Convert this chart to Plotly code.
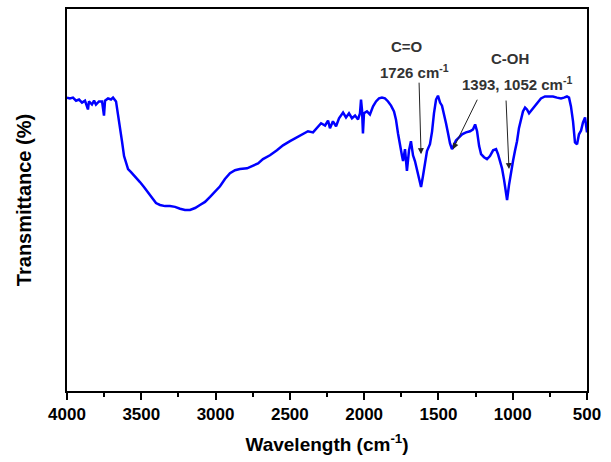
import plotly.graph_objects as go

# FTIR spectrum (wavenumber cm-1, transmittance arbitrary %)
wavenumber = [4000, 3980, 3960, 3939, 3919, 3899, 3879, 3859, 3852, 3832, 3818, 3805, 3785, 3764, 3751, 3744,
              3724, 3704, 3690, 3670, 3657, 3643, 3630, 3616, 3603, 3589, 3569, 3549, 3529, 3509, 3482, 3455,
              3428, 3401, 3374, 3340, 3307, 3273, 3239, 3206, 3172, 3138, 3105, 3071, 3037, 3004, 2970, 2937,
              2903, 2869, 2836, 2788, 2748, 2714, 2681, 2634, 2587, 2546, 2499, 2452, 2412, 2378, 2344, 2317,
              2290, 2263, 2243, 2230, 2210, 2189, 2169, 2142, 2122, 2102, 2082, 2061, 2041, 2028, 2021, 2014,
              2008, 2001, 1981, 1961, 1940, 1920, 1900, 1880, 1860, 1839, 1819, 1799, 1786, 1772, 1759, 1745,
              1738, 1725, 1712, 1698, 1685, 1671, 1658, 1644, 1631, 1617, 1604, 1590, 1577, 1557, 1543, 1530,
              1516, 1503, 1489, 1476, 1462, 1449, 1435, 1422, 1409, 1395, 1382, 1361, 1341, 1314, 1287, 1267,
              1253, 1240, 1226, 1213, 1193, 1173, 1153, 1132, 1112, 1099, 1085, 1072, 1058, 1045, 1038, 1025,
              1011, 998, 985, 971, 958, 944, 931, 917, 904, 890, 870, 850, 830, 810, 783, 756, 729, 702, 675,
              655, 635, 621, 608, 594, 581, 567, 554, 540, 527, 513, 507, 500]
transmittance = [76.8, 76.6, 76.8, 76.0, 76.3, 75.5, 76.0, 73.7, 75.8, 75.0, 76.0, 75.0, 75.8, 75.8, 72.1, 76.0,
                 76.6, 76.3, 76.8, 75.8, 72.4, 69.3, 65.4, 61.5, 59.6, 58.1, 57.3, 56.5, 55.5, 54.7, 53.4, 52.1,
                 50.5, 49.2, 48.7, 48.4, 48.4, 48.2, 47.7, 47.4, 47.4, 47.9, 48.7, 49.5, 50.8, 52.1, 53.6, 55.5,
                 57.0, 57.8, 58.1, 58.3, 58.9, 59.6, 60.7, 61.7, 63.0, 64.3, 65.4, 66.4, 67.4, 68.0, 67.7, 69.0,
                 70.1, 69.5, 70.8, 68.8, 70.6, 69.3, 71.4, 72.9, 71.6, 72.7, 71.4, 72.1, 71.1, 72.7, 76.3, 73.4,
                 67.4, 72.7, 73.2, 72.4, 74.5, 75.8, 76.6, 76.8, 76.6, 75.8, 74.7, 73.2, 71.1, 67.4, 64.1, 61.5,
                 60.2, 63.3, 57.6, 63.0, 65.4, 61.7, 60.2, 58.1, 55.5, 53.4, 56.3, 60.2, 62.8, 64.6, 67.9, 72.7,
                 76.3, 77.3, 75.5, 74.7, 72.7, 70.1, 67.4, 64.8, 63.3, 64.3, 65.6, 66.4, 67.2, 67.7, 68.0, 68.5,
                 69.8, 68.0, 64.1, 62.0, 61.2, 60.7, 61.5, 63.0, 63.3, 62.0, 59.9, 58.3, 55.2, 51.0, 50.0, 53.9,
                 57.6, 60.2, 62.8, 65.4, 68.8, 71.4, 73.2, 74.2, 73.7, 72.7, 73.7, 74.7, 75.8, 76.6, 77.1, 77.1,
                 77.1, 76.8, 76.6, 76.8, 77.1, 76.8, 74.5, 70.6, 65.1, 64.6, 67.2, 68.2, 70.3, 71.6, 69.8, 67.7]

x_ticks = [4000, 3500, 3000, 2500, 2000, 1500, 1000, 500]

# annotation anchors (head positions) and labels
peak_w = [1617, 1402, 1025]
peak_t = [62.0, 63.3, 58.1]
label_text = ["C=O", "1726 cm<sup>-1</sup>", "C-OH", "1393, 1052 cm<sup>-1</sup>"]
label_w = [1711, 1658, 1018, 971]
label_t = [90.1, 83.6, 87.0, 80.5]

fig = go.Figure()
fig.add_trace(go.Scatter(x=wavenumber, y=transmittance, mode="lines",
                         line=dict(color="#0000FF", width=2.5), showlegend=False))

arrow_offsets = [(-2, -73), (25, -51), (-3, -70)]
for w, t, (ax, ay) in zip(peak_w, peak_t, arrow_offsets):
    fig.add_annotation(x=w, y=t, xref="x", yref="y", ax=ax, ay=ay, text="",
                       showarrow=True, arrowhead=2, arrowsize=1.2, arrowwidth=1, arrowcolor="#222222")

for txt, w, t in zip(label_text, label_w, label_t):
    fig.add_annotation(x=w, y=t, xref="x", yref="y", text="<b>" + txt + "</b>", showarrow=False,
                       font=dict(family="Liberation Sans, Arial, sans-serif", size=15, color="#333333"))

fig.update_layout(
    width=611, height=462,
    margin=dict(l=67, r=24, t=7, b=71),
    plot_bgcolor="white", paper_bgcolor="white",
    font=dict(family="Liberation Sans, Arial, sans-serif", color="black"),
    xaxis=dict(range=[4000, 500], tickvals=x_ticks, ticktext=["<b>%d</b>" % v for v in x_ticks],
               ticks="outside", ticklen=7, tickwidth=2,
               tickcolor="black", showline=True, linewidth=2, linecolor="black", mirror=True,
               showgrid=False, zeroline=False,
               minor=dict(dtick=250, ticks="outside", ticklen=4, tickwidth=2, tickcolor="black", showgrid=False),
               tickfont=dict(size=17, family="Liberation Sans, Arial, sans-serif"),
               title=dict(text="<b>Wavelength (cm<sup>-1</sup>)</b>", font=dict(size=19), standoff=14)),
    yaxis=dict(range=[0, 100], showticklabels=False, ticks="", showline=True, linewidth=2,
               linecolor="black", mirror=True, showgrid=False, zeroline=False,
               title=dict(text="<b>Transmittance (%)</b>", font=dict(size=20), standoff=28)),
)

fig.write_html("out.html")
